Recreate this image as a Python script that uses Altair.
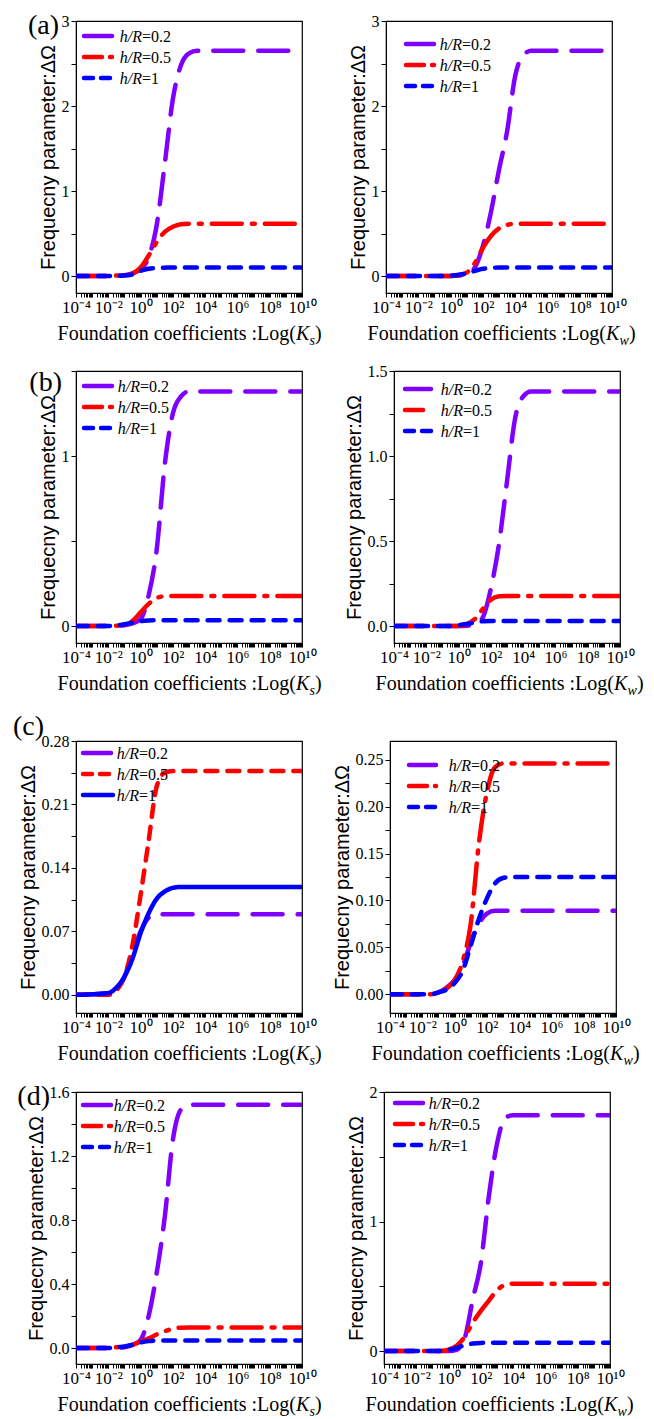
import altair as alt
import pandas as pd

# ---------------- data ----------------
EXPONENTS = [-4, -2, -1.5, -1, -0.5, 0, 0.5, 1, 1.5, 2, 2.5, 3, 3.5, 4, 4.5, 5, 10]
SERIES = ["h/R=0.2", "h/R=0.5", "h/R=1"]
TICK_EXP = [-4, -2, 0, 2, 4, 6, 8, 10]
SUP = {-4: "⁻⁴", -2: "⁻²", 0: "⁰", 2: "²", 4: "⁴", 6: "⁶", 8: "⁸", 10: "¹⁰"}

# (a)
a_s_02 = [0, 0, 0.005, 0.01, 0.03, 0.08, 0.22, 0.6, 1.32, 2.08, 2.48, 2.62, 2.65, 2.65, 2.65, 2.65, 2.65]
a_s_05 = [0, 0, 0.005, 0.01, 0.03, 0.1, 0.24, 0.4, 0.52, 0.58, 0.61, 0.615, 0.615, 0.615, 0.615, 0.615, 0.615]
a_s_1 = [0, 0, 0.002, 0.005, 0.02, 0.06, 0.085, 0.095, 0.098, 0.1, 0.1, 0.1, 0.1, 0.1, 0.1, 0.1, 0.1]
a_w_02 = [0, 0, 0, 0, 0, 0, 0.005, 0.02, 0.1, 0.35, 0.75, 1.25, 1.7, 2.35, 2.6, 2.65, 2.65]
a_w_05 = [0, 0, 0, 0, 0, 0, 0.01, 0.04, 0.15, 0.33, 0.47, 0.56, 0.6, 0.615, 0.615, 0.615, 0.615]
a_w_1 = [0, 0, 0, 0, 0, 0.005, 0.015, 0.03, 0.06, 0.085, 0.095, 0.1, 0.1, 0.1, 0.1, 0.1, 0.1]
# (b)
b_s_02 = [0, 0, 0.002, 0.005, 0.015, 0.04, 0.18, 0.45, 0.95, 1.25, 1.35, 1.38, 1.38, 1.38, 1.38, 1.38, 1.38]
b_s_05 = [0, 0, 0.002, 0.005, 0.03, 0.08, 0.13, 0.165, 0.175, 0.177, 0.177, 0.177, 0.177, 0.177, 0.177, 0.177, 0.177]
b_s_1 = [0, 0, 0.003, 0.01, 0.02, 0.028, 0.032, 0.034, 0.034, 0.034, 0.034, 0.034, 0.034, 0.034, 0.034, 0.034, 0.034]
b_w_02 = [0, 0, 0, 0, 0, 0, 0.002, 0.01, 0.05, 0.22, 0.48, 0.85, 1.22, 1.35, 1.38, 1.38, 1.38]
b_w_05 = [0, 0, 0, 0, 0, 0, 0.01, 0.04, 0.1, 0.155, 0.175, 0.177, 0.177, 0.177, 0.177, 0.177, 0.177]
b_w_1 = [0, 0, 0, 0, 0, 0.005, 0.012, 0.02, 0.028, 0.03, 0.03, 0.03, 0.03, 0.03, 0.03, 0.03, 0.03]
# (c)
c_s_02 = [0, 0.002, 0.007, 0.02, 0.045, 0.07, 0.085, 0.089, 0.089, 0.089, 0.089, 0.089, 0.089, 0.089, 0.089, 0.089, 0.089]
c_s_05 = [0, 0, 0.005, 0.02, 0.055, 0.11, 0.17, 0.23, 0.245, 0.247, 0.247, 0.247, 0.247, 0.247, 0.247, 0.247, 0.247]
c_s_1 = [0, 0.002, 0.008, 0.02, 0.04, 0.068, 0.09, 0.106, 0.114, 0.118, 0.119, 0.119, 0.119, 0.119, 0.119, 0.119, 0.119]
c_w_02 = [0, 0, 0, 0.002, 0.007, 0.015, 0.03, 0.055, 0.075, 0.086, 0.089, 0.089, 0.089, 0.089, 0.089, 0.089, 0.089]
c_w_05 = [0, 0, 0, 0.002, 0.006, 0.015, 0.035, 0.075, 0.16, 0.215, 0.242, 0.246, 0.246, 0.246, 0.246, 0.246, 0.246]
c_w_1 = [0, 0, 0, 0.002, 0.005, 0.012, 0.025, 0.052, 0.08, 0.102, 0.118, 0.124, 0.125, 0.125, 0.125, 0.125, 0.125]
# (d)
d_s_02 = [0, 0, 0.002, 0.005, 0.02, 0.05, 0.2, 0.47, 0.82, 1.3, 1.49, 1.52, 1.52, 1.52, 1.52, 1.52, 1.52]
d_s_05 = [0, 0, 0.005, 0.01, 0.02, 0.04, 0.06, 0.085, 0.105, 0.12, 0.127, 0.128, 0.128, 0.128, 0.128, 0.128, 0.128]
d_s_1 = [0, 0, 0.005, 0.01, 0.02, 0.035, 0.043, 0.046, 0.047, 0.047, 0.047, 0.047, 0.047, 0.047, 0.047, 0.047, 0.047]
d_w_02 = [0, 0, 0, 0, 0, 0, 0.01, 0.1, 0.4, 0.68, 1.2, 1.6, 1.8, 1.82, 1.82, 1.82, 1.82]
d_w_05 = [0, 0, 0, 0, 0, 0.01, 0.04, 0.11, 0.22, 0.31, 0.39, 0.47, 0.51, 0.52, 0.52, 0.52, 0.52]
d_w_1 = [0, 0, 0, 0, 0, 0.01, 0.025, 0.045, 0.058, 0.063, 0.064, 0.065, 0.065, 0.065, 0.065, 0.065, 0.065]

# ---------------- styles ----------------
SERIF = "Liberation Serif"
SANS = "Liberation Sans"
COLORS = ["#8000ff", "#ff0000", "#0000ff"]
DASH_STD = [[30, 15], [30, 10, 3, 10], [12, 10]]
DASH_C = [[30, 15], [12, 10], [1, 0]]
LEG_DASH_STD = [[28, 40], [18, 8, 2, 8], [9, 8]]
LEG_DASH_C = [[28, 40], [9, 8], [1, 0]]
W, H = 226, 272
TITLE_SIZE = 20

panels = [
    dict(label="(a)", lab=(-17, 13), sub="s", ys=(a_s_02, a_s_05, a_s_1), dom=[-0.2, 3], ticks=[0, 1, 2, 3], minor=[0.5, 1.5, 2.5], fmt=".0f", c=False, leg=(8, 38, 15, 66)),
    dict(label=None, sub="w", ys=(a_w_02, a_w_05, a_w_1), dom=[-0.2, 3], ticks=[0, 1, 2, 3], minor=[0.5, 1.5, 2.5], fmt=".0f", c=False, leg=(20, 48, 23, 76)),
    dict(label="(b)", lab=(-14, 20), sub="s", ys=(b_s_02, b_s_05, b_s_1), dom=[-0.1, 1.5], ticks=[0, 1], minor=[0.5, 1.5], fmt=".0f", c=False, leg=(8, 36, 15, 64)),
    dict(label=None, sub="w", ys=(b_w_02, b_w_05, b_w_1), dom=[-0.1, 1.5], ticks=[0, 0.5, 1, 1.5], minor=[0.25, 0.75, 1.25], fmt=".1f", c=False, leg=(11, 37, 18, 69)),
    dict(label="(c)", lab=(-32, -6), sub="s", ys=(c_s_02, c_s_05, c_s_1), dom=[-0.02, 0.28], ticks=[0, 0.07, 0.14, 0.21, 0.28], minor=[0.035, 0.105, 0.175, 0.245], fmt=".2f", c=True, leg=(7, 37, 12, 63)),
    dict(label=None, sub="w", ys=(c_w_02, c_w_05, c_w_1), dom=[-0.02, 0.27], ticks=[0, 0.05, 0.1, 0.15, 0.2, 0.25], minor=[0.025, 0.075, 0.125, 0.175, 0.225], fmt=".2f", c=False, leg=(19, 46, 24, 81)),
    dict(label="(d)", lab=(-26, 13), sub="s", ys=(d_s_02, d_s_05, d_s_1), dom=[-0.1, 1.6], ticks=[0, 0.4, 0.8, 1.2, 1.6], minor=[0.2, 0.6, 1.0, 1.4], fmt=".1f", c=False, leg=(7, 35, 13, 60)),
    dict(label=None, sub="w", ys=(d_w_02, d_w_05, d_w_1), dom=[-0.1, 2], ticks=[0, 1, 2], minor=[0.5, 1.5], fmt=".0f", c=False, leg=(11, 41, 11, 67)),
]
ROW_SPACING = [24, 20, 8, 22]

# x tick positions: every decade plus 2..9 sub-decade ticks; labels only on even decades
X_TICKS = [m * 10.0 ** k for k in range(-4, 10) for m in range(1, 10)] + [1e10]

one = pd.DataFrame({"k": [0]})
lg = "(log(datum.value)/LN10)"
is_major = f"abs({lg} - round({lg})) < 1e-6"
label_expr = (
    f"!({is_major}) ? '' : "
    + " : ".join(f"round({lg}) == {k} ? '10{v}'" for k, v in SUP.items())
    + " : ''"
)


def txt(text, x, y, align="left", size=TITLE_SIZE, style="normal", font=SERIF):
    return alt.Chart(one).mark_text(
        text=text, align=align, baseline="alphabetic", font=font, fontSize=size,
        fontStyle=style, color="black"
    ).encode(x=alt.value(x), y=alt.value(y))


def panel(p):
    rows = []
    for name, vals in zip(SERIES, p["ys"]):
        for e, v in zip(EXPONENTS, vals):
            rows.append({"K": 10.0 ** e, "v": v, "series": name})
    df = pd.DataFrame(rows)
    dashes = DASH_C if p["c"] else DASH_STD
    leg_dashes = LEG_DASH_C if p["c"] else LEG_DASH_STD
    y_values = sorted(p["ticks"] + p["minor"])
    y_label_expr = "indexof(" + str(p["ticks"]) + ", datum.value) >= 0 ? datum.label : ''"

    lines = alt.Chart(df).mark_line(
        strokeWidth=4.5, strokeCap="round", interpolate="monotone", clip=True
    ).encode(
        x=alt.X("K:Q",
                scale=alt.Scale(type="log", domain=[1e-4, 1e10], nice=False),
                axis=alt.Axis(values=X_TICKS, labelExpr=label_expr, labelFontSize=17,
                              tickSize=4, title=None, labelFlush=False, labelOverlap=False)),
        y=alt.Y("v:Q",
                scale=alt.Scale(domain=p["dom"], nice=False, zero=False),
                axis=alt.Axis(values=y_values, format=p["fmt"], labelExpr=y_label_expr,
                              labelOverlap=False, title="Frequecny parameter:ΔΩ")),
        color=alt.Color("series:N", scale=alt.Scale(domain=SERIES, range=COLORS), legend=None),
        strokeDash=alt.StrokeDash("series:N", scale=alt.Scale(domain=SERIES, range=dashes), legend=None),
        detail="series:N",
    )

    layers = [lines]
    # legend
    sx0, sx1, y0, eqx = p["leg"]
    for i, name in enumerate(SERIES):
        yy = y0 + 21 * i
        layers.append(
            alt.Chart(one).mark_rule(strokeWidth=4.5, strokeCap="round",
                                     color=COLORS[i], strokeDash=leg_dashes[i]).encode(
                x=alt.value(sx0), x2=alt.value(sx1), y=alt.value(yy))
        )
        layers.append(txt("h/R", eqx, yy + 6, align="right", size=16, style="italic"))
        layers.append(txt(name.split("h/R")[1], eqx, yy + 6, align="left", size=16))

    # x title with italic K and subscript
    X0 = W / 2 + 107
    sub_w = 5.5 if p["sub"] == "s" else 9.5
    layers.append(txt("Foundation coefficients :Log(", X0, H + 47, align="right"))
    layers.append(txt("K", X0, H + 47, style="italic"))
    layers.append(txt(p["sub"], X0 + 13.5, H + 52, size=14, style="italic"))
    layers.append(txt(")", X0 + 13.5 + sub_w, H + 47))

    if p["label"]:
        lx, ly = p["lab"]
        layers.append(txt(p["label"], lx, ly, align="right", size=28))

    return alt.layer(*layers).properties(width=W, height=H)


charts = [panel(p) for p in panels]
rows = [
    alt.hconcat(charts[2 * r], charts[2 * r + 1], spacing=ROW_SPACING[r]).resolve_scale(
        strokeDash="independent", color="independent")
    for r in range(4)
]

chart = alt.vconcat(*rows, spacing=13).resolve_scale(
    strokeDash="independent", color="independent"
).properties(
    padding={"left": 4, "top": 3, "right": 0, "bottom": 0},
    background="white",
).configure_view(
    stroke="black", strokeWidth=1.2
).configure_axis(
    labelFont=SERIF, labelFontSize=16, labelColor="black",
    tickColor="black", domainColor="black", tickSize=5, labelPadding=2,
    grid=False,
    titleFont=SANS, titleFontSize=20, titleFontWeight="normal", titleColor="black",
    titlePadding=3,
)

chart.save("out.html", embed_options={"renderer": "svg", "actions": False})
